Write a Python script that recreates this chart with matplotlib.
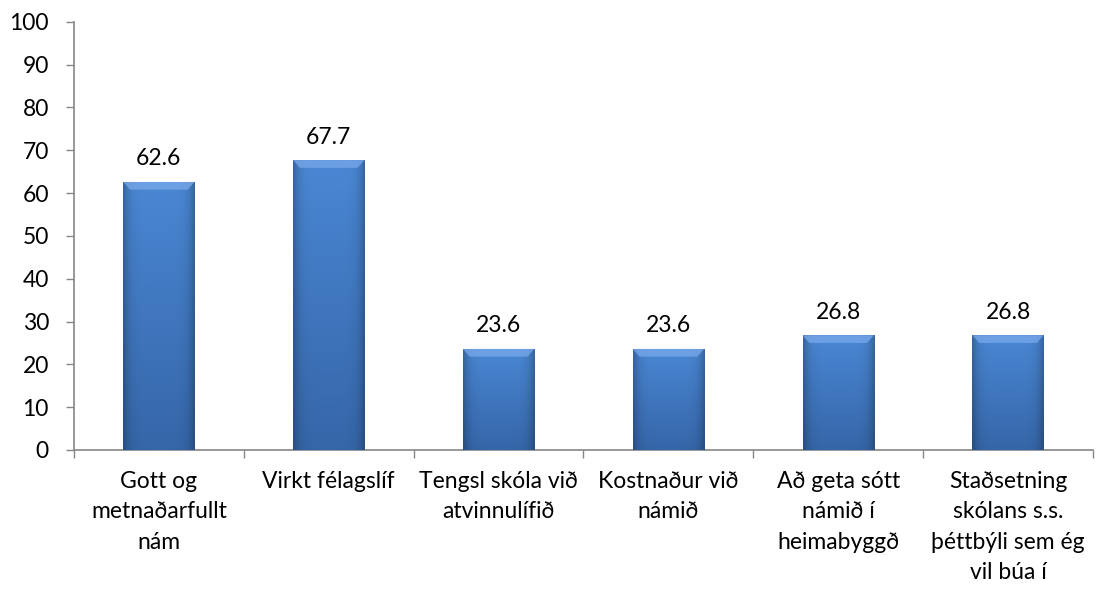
import numpy as np
import matplotlib.pyplot as plt
from matplotlib.patches import Polygon

plt.rcParams['font.family'] = ['Lato', 'DejaVu Sans']

categories = ['Gott og\nmetnaðarfullt\nnám',
              'Virkt félagslíf',
              'Tengsl skóla við\natvinnulífið',
              'Kostnaður við\nnámið',
              'Að geta sótt\nnámið í\nheimabyggð',
              'Staðsetning\nskólans s.s.\nþéttbýli sem ég\nvil búa í']
values = [62.6, 67.7, 23.6, 23.6, 26.8, 26.8]
yticks = [0, 10, 20, 30, 40, 50, 60, 70, 80, 90, 100]

grey = '#868686'
fs = 16.5
fig = plt.figure(figsize=(11.04, 5.89), dpi=100)
ax = fig.add_axes([0.067, 0.236, 0.923, 0.727])

x = np.arange(len(values))
w = 0.42
bars = ax.bar(x, values, width=w, color='#3a6cae', zorder=2)

# shading: lighter at the top, darker toward bottom and side edges
top_c = np.array([0.29, 0.53, 0.83])
bot_c = np.array([0.21, 0.40, 0.66])
vy = np.linspace(0, 1, 80)[:, None, None]          # 0 = top row
hx = np.linspace(0, 1, 60)[None, :, None]
base = top_c * (1 - vy) + bot_c * vy
edge = np.clip(np.abs(hx - 0.5) / 0.5, 0, 1) ** 6
grad = base * (1 - 0.25 * edge)
bev_x = 0.04
bev_y = 1.8
for b, v in zip(bars, values):
    x0 = b.get_x()
    im = ax.imshow(grad, extent=(x0, x0 + w, 0, v), aspect='auto',
                   interpolation='bicubic', zorder=3)
    im.set_clip_path(b)
    top = Polygon([[x0, v], [x0 + w, v], [x0 + w - bev_x, v - bev_y], [x0 + bev_x, v - bev_y]],
                  closed=True, facecolor='#79a9ea', edgecolor='none', alpha=0.75, zorder=4)
    ax.add_patch(top)
    ax.annotate(f'{v:.1f}', (x0 + w / 2, v), xytext=(0, 9), textcoords='offset points',
                ha='center', va='bottom', fontsize=fs)

ax.set_xlim(-0.5, len(values) - 0.5)
ax.set_ylim(0, 100)
ax.set_yticks(yticks)
ax.set_yticklabels([str(t) for t in yticks], fontsize=fs)
ax.set_xticks(x)
ax.set_xticklabels(categories, fontsize=fs, linespacing=1.55, va='top')
ax.set_xticks(np.arange(len(values) + 1) - 0.5, minor=True)

ax.tick_params(axis='x', which='major', length=0, pad=15)
ax.tick_params(axis='x', which='minor', length=6, color=grey, width=1)
ax.tick_params(axis='y', length=6, color=grey, width=1, pad=12)

for s in ['top', 'right']:
    ax.spines[s].set_visible(False)
for s in ['left', 'bottom']:
    ax.spines[s].set_color(grey)
    ax.spines[s].set_linewidth(1.2)

plt.savefig('out.png', dpi=100)
